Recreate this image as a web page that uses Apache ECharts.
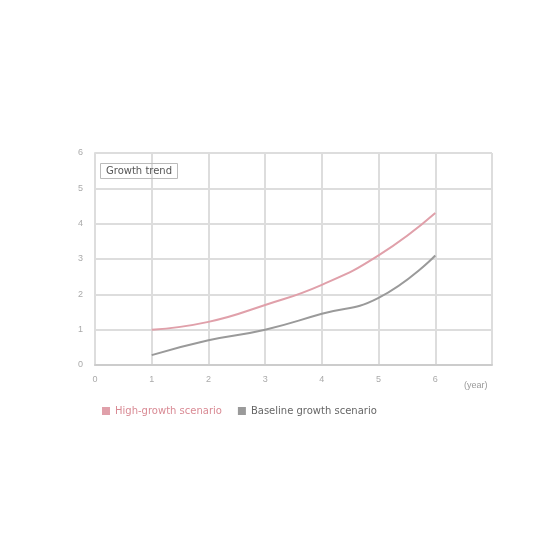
<!DOCTYPE html>
<html><head><meta charset="utf-8">
<script src="https://cdn.jsdelivr.net/npm/echarts@6/dist/echarts.min.js"></script>
<style>html,body{margin:0;padding:0;background:#fff}#c{width:560px;height:560px}</style>
</head><body><div id="c"></div>
<script>
const xValues = [1, 2, 3, 4, 5, 6];
const seriesA = [1.0, 1.22, 1.7, 2.27, 3.1, 4.3];
const seriesB = [0.28, 0.7, 1.0, 1.45, 1.9, 3.1];
const nameA = 'High-growth scenario';
const nameB = 'Baseline growth scenario';
const chart = echarts.init(document.getElementById('c'));
chart.setOption({
  animation: false,
  title: {
    text: 'Growth trend', left: 100, top: 163,
    borderColor: '#bbb', borderWidth: 1, padding: [3, 6],
    textStyle: { fontSize: 10, fontWeight: 'normal', color: '#555', fontFamily: 'DejaVu Sans' }
  },
  legend: {
    left: 97, top: 401, itemGap: 16, itemWidth: 8, itemHeight: 8, icon: 'rect',
    data: [
      { name: nameA, textStyle: { color: '#d98a94' } },
      { name: nameB, textStyle: { color: '#666' } }
    ],
    textStyle: { fontSize: 10, fontFamily: 'DejaVu Sans' }
  },
  grid: { left: 95, right: 68, top: 153, bottom: 195 },
  xAxis: {
    type: 'value', min: 0, max: 7, interval: 1,
    name: '(year)', nameLocation: 'end', nameGap: -28,
    nameTextStyle: { fontSize: 9, color: '#999', verticalAlign: 'top', padding: [16, 0, 0, 0] },
    axisLine: { show: true, lineStyle: { color: '#ccc', width: 2 } },
    axisTick: { show: false },
    axisLabel: { fontSize: 9, color: '#aaa', margin: 10, formatter: v => v === 7 ? '' : v },
    splitLine: { show: true, lineStyle: { color: '#ddd', width: 2 } }
  },
  yAxis: {
    type: 'value', min: 0, max: 6, interval: 1,
    axisLine: { show: true, lineStyle: { color: '#ddd', width: 2 } },
    axisTick: { show: false },
    axisLabel: { fontSize: 9, color: '#aaa', margin: 12 },
    splitLine: { show: true, lineStyle: { color: '#ddd', width: 2 } }
  },
  series: [
    { name: nameA, type: 'line', data: xValues.map((x, i) => [x, seriesA[i]]),
      smooth: true, showSymbol: false, lineStyle: { color: '#e0a0aa', width: 2 }, itemStyle: { color: '#e0a0aa' } },
    { name: nameB, type: 'line', data: xValues.map((x, i) => [x, seriesB[i]]),
      smooth: true, showSymbol: false, lineStyle: { color: '#9a9a9a', width: 2 }, itemStyle: { color: '#9a9a9a' } }
  ]
});
</script></body></html>
